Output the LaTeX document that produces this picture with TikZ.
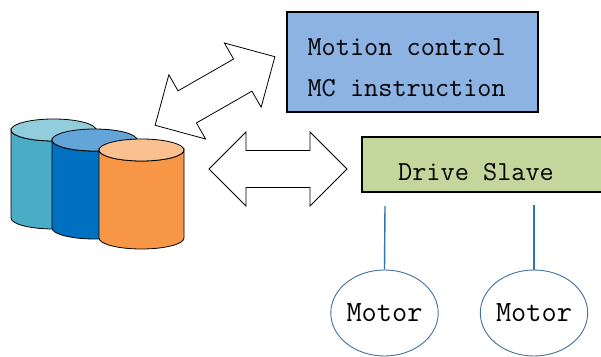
\documentclass[tikz,border=0pt]{standalone}
\usetikzlibrary{shapes.geometric}
\definecolor{boxblue}{RGB}{141,179,226}
\definecolor{boxgreen}{RGB}{195,214,155}
\definecolor{linkblue}{RGB}{46,117,182}
\definecolor{motorline}{RGB}{65,113,156}
\definecolor{tealbody}{RGB}{75,172,198}
\definecolor{tealtop}{RGB}{146,205,220}
\definecolor{bluebody}{RGB}{0,112,192}
\definecolor{bluetop}{RGB}{99,165,216}
\definecolor{orangebody}{RGB}{247,150,70}
\definecolor{orangetop}{RGB}{250,192,144}
\tikzset{
  x=1pt, y=1pt,
  txt/.style={font=\ttfamily\fontsize{27.5}{41}\selectfont, text=black},
  infobox/.style={draw=black, line width=1.6pt, anchor=south west, inner sep=0pt},
  motor/.style={ellipse, draw=motorline, line width=0.9pt, minimum width=105pt,
    minimum height=86pt, inner sep=0pt, font=\ttfamily\fontsize{29.5}{30}\selectfont},
  link/.style={draw=linkblue, line width=1.4pt},
  pics/cyl/.style n args={2}{code={
    \filldraw[fill=#1, draw=black, line width=0.8pt]
      (0,0) -- (0,-88) arc[start angle=180, end angle=360, x radius=42.5, y radius=11]
      -- (85,0) arc[start angle=0, end angle=-180, x radius=42.5, y radius=11] -- cycle;
    \filldraw[fill=#2, draw=black, line width=0.8pt]
      (42.5,0) ellipse[x radius=42.5, y radius=11];
  }},
  pics/dblarrow/.style={code={
    \filldraw[fill=white, draw=black, line width=0.8pt, line join=miter]
      (-69,0) -- (-32,37) -- (-32,18.5) -- (32,18.5) -- (32,37) -- (69,0)
      -- (32,-37) -- (32,-18.5) -- (-32,-18.5) -- (-32,-37) -- cycle;
  }}
}
\begin{document}
\begin{tikzpicture}
\clip (0,0) rectangle (601,356);
\fill[white] (0,0) rectangle (601,356);
% cylinders
\pic at (11,226) {cyl={tealbody}{tealtop}};
\pic at (52,216) {cyl={bluebody}{bluetop}};
\pic at (99,206) {cyl={orangebody}{orangetop}};
% boxes
\node[infobox, fill=boxblue, minimum width=251pt, minimum height=100pt] (mc) at (286,243) {};
\node[txt, align=left, anchor=north west] (mctext) at (304,321) {Motion control\\MC instruction};
\node[infobox, fill=boxgreen, minimum width=260pt, minimum height=55pt] (drive) at (361,163) {};
\node[txt, anchor=center] (drivetext) at (476,184) {Drive Slave};
% block arrows
\pic (harrow) at (278,187) {dblarrow};
\pic[rotate=29.8] (darrow) at (215,265) {dblarrow};
% motors
\node[motor] (m1) at (384.5,43) {Motor};
\node[motor] (m2) at (534,43) {Motor};
\coordinate (l1) at (385,150);
\coordinate (l2) at (534,151);
\draw[link] (l1) -- (m1.north);
\draw[link] (l2) -- (m2.north);
\end{tikzpicture}
\end{document}
